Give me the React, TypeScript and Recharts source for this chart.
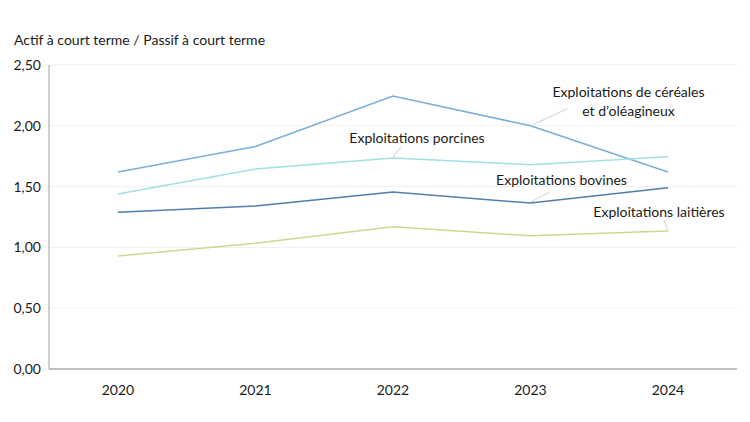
import React from "react";
import {
  LineChart,
  Line,
  XAxis,
  YAxis,
  CartesianGrid,
  LabelList,
} from "recharts";

const years = ["2020", "2021", "2022", "2023", "2024"];
const cereales = [1.62, 1.83, 2.245, 2.0, 1.62];
const porcines = [1.44, 1.645, 1.735, 1.68, 1.745];
const bovines = [1.29, 1.34, 1.455, 1.365, 1.49];
const laitieres = [0.93, 1.035, 1.17, 1.095, 1.135];
const yTicks = [0, 0.5, 1, 1.5, 2, 2.5];

const data = years.map((year, i) => ({
  year,
  cereales: cereales[i],
  porcines: porcines[i],
  bovines: bovines[i],
  laitieres: laitieres[i],
}));

const FONT = "Lato, 'Noto Sans', sans-serif";
const LEADER = "#d0d0d0";

// annotation drawn next to one point of a series, with a small leader line
function makeLabel(
  atIndex: number,
  lines: string[],
  dx: number,
  dy: number,
  lead: [number, number, number, number]
) {
  return (props: any) => {
    const { x, y, index } = props;
    if (index !== atIndex) return null;
    return (
      <g>
        <line
          x1={x + lead[0]}
          y1={y + lead[1]}
          x2={x + lead[2]}
          y2={y + lead[3]}
          stroke={LEADER}
          strokeWidth={1}
        />
        {lines.map((t, k) => (
          <text
            key={k}
            x={x + dx}
            y={y + dy + k * 19}
            textAnchor="middle"
            dominantBaseline="central"
            fontFamily={FONT}
            fontSize={14}
            fill="#1a1a1a"
          >
            {t}
          </text>
        ))}
      </g>
    );
  };
}

export default function App() {
  return (
    <div
      style={{
        position: "absolute",
        left: 0,
        top: 0,
        width: 750,
        height: 422,
        background: "#fff",
      }}
    >
      <div
        style={{
          position: "absolute",
          left: 14,
          top: 31,
          fontFamily: FONT,
          fontSize: 14,
          color: "#1a1a1a",
        }}
      >
        Actif à court terme / Passif à court terme
      </div>
      <LineChart
        width={750}
        height={422}
        data={data}
        margin={{ top: 65, right: 13, left: 0, bottom: 23 }}
      >
        <CartesianGrid vertical={false} stroke="#efefef" />
        <XAxis
          dataKey="year"
          tickLine={false}
          axisLine={{ stroke: "#bfbfbf", strokeWidth: 2 }}
          padding={{ left: 69, right: 69 }}
          tickMargin={10}
          height={30}
          tick={{ fill: "#1a1a1a", fontSize: 14, fontFamily: FONT }}
        />
        <YAxis
          width={49}
          domain={[0, 2.5]}
          ticks={yTicks}
          tickLine={false}
          axisLine={{ stroke: "#bfbfbf", strokeWidth: 1.5 }}
          tickFormatter={(v: number) => v.toFixed(2).replace(".", ",")}
          tick={{ fill: "#1a1a1a", fontSize: 14, fontFamily: FONT }}
        />

        <Line
          dataKey="cereales"
          type="linear"
          stroke="#7aaed8"
          strokeWidth={1.5}
          dot={false}
          isAnimationActive={false}
        >
          <LabelList
            dataKey="cereales"
            content={makeLabel(
              3,
              ["Exploitations de céréales", "et d’oléagineux"],
              98,
              -34,
              [2, -1, 37, -17]
            )}
          />
        </Line>
        <Line
          dataKey="porcines"
          type="linear"
          stroke="#a3dde6"
          strokeWidth={1.5}
          dot={false}
          isAnimationActive={false}
        >
          <LabelList
            dataKey="porcines"
            content={makeLabel(
              2,
              ["Exploitations porcines"],
              24,
              -21,
              [0, -1, 8, -11]
            )}
          />
        </Line>
        <Line
          dataKey="bovines"
          type="linear"
          stroke="#4f7fa9"
          strokeWidth={1.5}
          dot={false}
          isAnimationActive={false}
        >
          <LabelList
            dataKey="bovines"
            content={makeLabel(
              3,
              ["Exploitations bovines"],
              31,
              -24,
              [0, -1, 19, -11]
            )}
          />
        </Line>
        <Line
          dataKey="laitieres"
          type="linear"
          stroke="#c6da8c"
          strokeWidth={1.5}
          dot={false}
          isAnimationActive={false}
        >
          <LabelList
            dataKey="laitieres"
            content={makeLabel(
              4,
              ["Exploitations laitières"],
              -9,
              -19,
              [0, 0, -4, -11]
            )}
          />
        </Line>
      </LineChart>
    </div>
  );
}
